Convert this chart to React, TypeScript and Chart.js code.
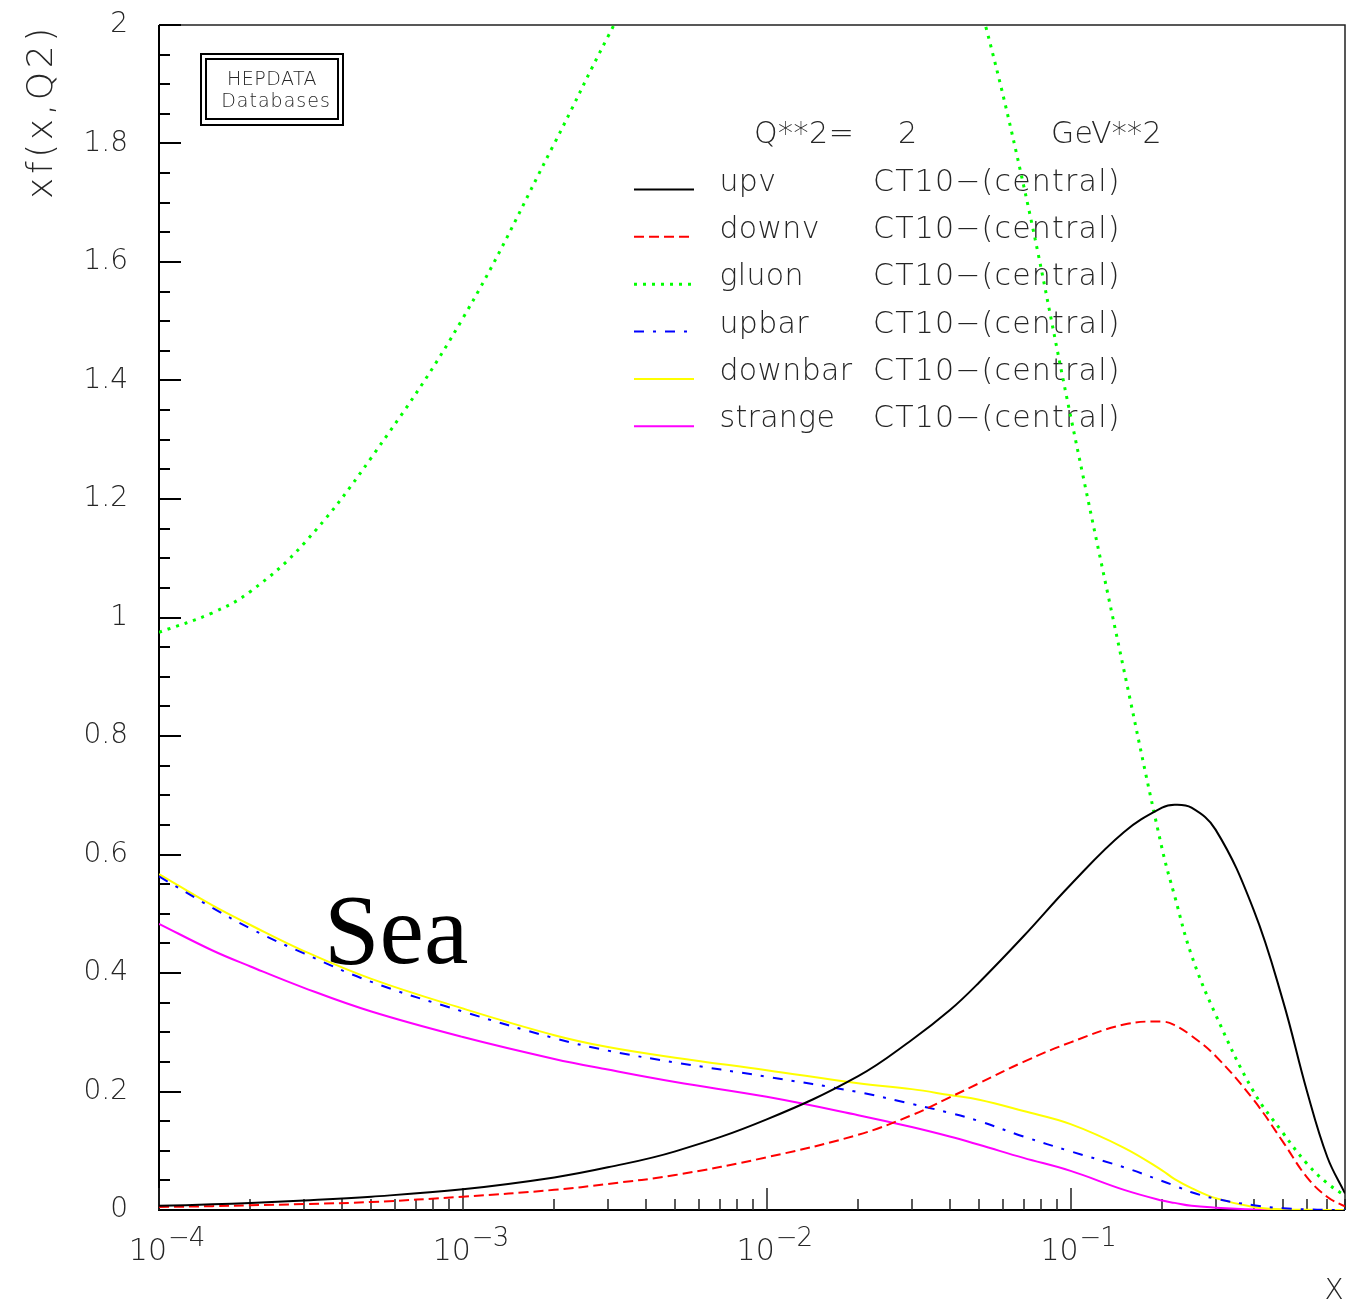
import React, { useEffect, useRef } from 'react';
import { Chart, registerables } from 'chart.js';

Chart.register(...registerables);

// x values (log-spaced sampling of the curves)
const xValues = [1e-4, 1.5e-4, 2e-4, 3e-4, 5e-4, 1e-3, 2e-3, 3e-3, 5e-3, 1e-2, 2e-2, 3e-2, 4e-2, 5e-2, 7e-2, 0.1, 0.15, 0.2, 0.22, 0.25, 0.3, 0.4, 0.5, 0.6, 0.7, 0.8];

const upv = [0.007, 0.0095, 0.012, 0.016, 0.0225, 0.035, 0.055, 0.072, 0.099, 0.153, 0.226, 0.287, 0.337, 0.384, 0.462, 0.549, 0.638, 0.679, 0.684, 0.679, 0.642, 0.507, 0.353, 0.2, 0.089, 0.028];
const downv = [0.005, 0.0065, 0.008, 0.010, 0.0135, 0.0225, 0.034, 0.044, 0.059, 0.089, 0.127, 0.160, 0.190, 0.214, 0.250, 0.283, 0.313, 0.318, 0.312, 0.294, 0.26, 0.186, 0.115, 0.055, 0.022, 0.006];
const gluon = [0.975, 1.008, 1.044, 1.125, 1.27, 1.505, 1.80, 1.98, 2.19, 2.38, 2.42, 2.33, 2.2, 2.04, 1.73, 1.34, 0.91, 0.61, 0.53, 0.43, 0.33, 0.20, 0.13, 0.078, 0.045, 0.024];
const upbar = [0.563, 0.51, 0.475, 0.433, 0.385, 0.335, 0.290, 0.269, 0.249, 0.225, 0.199, 0.179, 0.164, 0.15, 0.124, 0.099, 0.072, 0.049, 0.041, 0.03, 0.019, 0.008, 0.003, 0.001, 0.0003, 0];
const downbar = [0.567, 0.514, 0.481, 0.437, 0.390, 0.340, 0.295, 0.275, 0.257, 0.236, 0.214, 0.204, 0.194, 0.186, 0.167, 0.145, 0.105, 0.067, 0.052, 0.037, 0.02, 0.005, 0.001, 0.0003, 0, 0];
const strange = [0.483, 0.438, 0.411, 0.375, 0.335, 0.292, 0.255, 0.237, 0.216, 0.191, 0.160, 0.140, 0.124, 0.11, 0.088, 0.066, 0.034, 0.016, 0.012, 0.007, 0.004, 0.001, 0.0003, 0, 0, 0];

const seriesNames = ['upv', 'downv', 'gluon', 'upbar', 'downbar', 'strange'];
const pdfSetLabel = 'CT10\u2212(central)';
const headerParts = ['Q**2=', '2', 'GeV**2'];
const xDecadeExponents = [-4, -3, -2, -1];
const yAxisTitle = 'xf(x,Q2)';
const xAxisTitle = 'X';
const boxLines = ['HEPDATA', 'Databases'];
const annotation = 'Sea';

const SANS = '"DejaVu Sans", "Liberation Sans", sans-serif';
const TEXT = '#262626';
const WEIGHT = '200';

export default function App() {
  const ref = useRef<HTMLCanvasElement>(null);

  useEffect(() => {
    const canvas = ref.current;
    if (!canvas) return;

    const mk = (label: string, values: number[], color: string, dash: number[], width: number) => ({
      label,
      data: xValues.map((x, i) => ({ x, y: values[i] })),
      borderColor: color,
      backgroundColor: color,
      borderWidth: width,
      borderDash: dash,
      borderCapStyle: 'butt' as const,
      pointRadius: 0,
      fill: false,
      tension: 0.4,
    });

    const txt = (ctx: CanvasRenderingContext2D, s: string, x: number, y: number, size: number, align: CanvasTextAlign = 'left', spacing = 0, color = TEXT, family = SANS, weight = WEIGHT) => {
      ctx.font = `${weight} ${size}px ${family}`;
      ctx.fillStyle = color;
      ctx.textAlign = align;
      ctx.textBaseline = 'alphabetic';
      (ctx as any).letterSpacing = spacing + 'px';
      ctx.fillText(s, x, y);
      (ctx as any).letterSpacing = '0px';
    };

    const decor = {
      id: 'decor',
      beforeDatasetsDraw(chart: any) {
        const ctx: CanvasRenderingContext2D = chart.ctx;
        const { left, right, top, bottom } = chart.chartArea;
        const xs = chart.scales.x;
        const ys = chart.scales.y;
        ctx.save();
        ctx.setLineDash([]);

        // frame
        ctx.strokeStyle = '#000';
        ctx.lineWidth = 2;
        ctx.beginPath();
        ctx.moveTo(left, top);
        ctx.lineTo(left, bottom);
        ctx.lineTo(right, bottom);
        ctx.stroke();
        ctx.lineWidth = 1.5;
        ctx.strokeStyle = '#222';
        ctx.beginPath();
        ctx.moveTo(left, top);
        ctx.lineTo(right, top);
        ctx.lineTo(right, bottom);
        ctx.stroke();

        // y ticks (inside)
        ctx.strokeStyle = '#000';
        ctx.lineWidth = 2;
        ctx.beginPath();
        for (let i = 0; i <= 40; i++) {
          const y = Math.round(ys.getPixelForValue(i * 0.05));
          const len = i % 4 === 0 ? 22 : 11;
          ctx.moveTo(left, y);
          ctx.lineTo(left + len, y);
        }
        ctx.stroke();

        // x ticks (inside)
        ctx.lineWidth = 1.5;
        ctx.strokeStyle = '#222';
        ctx.beginPath();
        for (const d of xDecadeExponents) {
          for (let k = 1; k <= 9; k++) {
            const v = k * Math.pow(10, d);
            if (v > xs.max * 1.0001) continue;
            const x = Math.round(xs.getPixelForValue(v));
            const len = k === 1 ? 22 : 11;
            ctx.moveTo(x, bottom);
            ctx.lineTo(x, bottom - len);
          }
        }
        ctx.stroke();

        // x tick labels 10^d
        for (const d of xDecadeExponents) {
          const x = xs.getPixelForValue(Math.pow(10, d));
          txt(ctx, '10', x + 8, 1260, 30, 'right');
          txt(ctx, '\u2212' + String(-d), x + 9, 1246, 26, 'left', -1);
        }

        // axis titles
        txt(ctx, xAxisTitle, 1334, 1299, 28, 'center');
        ctx.save();
        ctx.translate(52, 199);
        ctx.rotate(-Math.PI / 2);
        txt(ctx, yAxisTitle, 0, 0, 36, 'left', 3.6);
        ctx.restore();

        // HEPDATA box
        ctx.strokeStyle = '#000';
        ctx.lineWidth = 2;
        ctx.strokeRect(201, 54, 142, 71);
        ctx.strokeRect(206, 59, 132, 60);
        txt(ctx, boxLines[0], 272, 84.5, 19, 'center', 0.5);
        txt(ctx, boxLines[1], 276, 107, 19, 'center', 1);

        // header
        txt(ctx, headerParts[0], 754, 143, 30, 'left', 0.5);
        txt(ctx, headerParts[1], 898, 143, 30, 'left');
        txt(ctx, headerParts[2], 1051, 143, 30, 'left', 0.3);

        // legend
        chart.data.datasets.forEach((ds: any, i: number) => {
          const base = 190.5 + i * 47.35;
          ctx.save();
          ctx.strokeStyle = ds.borderColor;
          ctx.lineWidth = ds.borderWidth;
          ctx.setLineDash(ds.borderDash || []);
          ctx.lineCap = 'butt';
          ctx.beginPath();
          ctx.moveTo(634, base - 1);
          ctx.lineTo(694, base - 1);
          ctx.stroke();
          ctx.restore();
          txt(ctx, ds.label, 719.5, base, 30, 'left', 0.3);
          txt(ctx, pdfSetLabel, 873, base, 30, 'left', 1.2);
        });

        // Sea annotation
        txt(ctx, annotation, 324, 963, 100, 'left', 0, '#000', '"Liberation Serif", "DejaVu Serif", serif', 'normal');

        ctx.restore();
      },
    };

    const chart = new Chart(canvas, {
      type: 'line',
      data: {
        datasets: [
          mk(seriesNames[0], upv, '#000000', [], 2),
          mk(seriesNames[1], downv, '#ff0000', [10, 5], 2),
          mk(seriesNames[2], gluon, '#00ff00', [3, 6], 3),
          mk(seriesNames[3], upbar, '#0000ff', [10, 9, 3, 9], 2),
          mk(seriesNames[4], downbar, '#ffff00', [], 2),
          mk(seriesNames[5], strange, '#ff00ff', [], 2),
        ],
      },
      options: {
        responsive: false,
        animation: false,
        devicePixelRatio: 1,
        events: [],
        layout: { padding: { left: 0, right: 3, top: 25, bottom: 0 } },
        plugins: { legend: { display: false }, tooltip: { enabled: false }, title: { display: false } },
        scales: {
          x: {
            type: 'logarithmic',
            min: 1e-4,
            max: 0.8,
            grid: { display: false, drawTicks: false },
            border: { display: false },
            ticks: { display: false },
            afterFit: (s: any) => { s.height = 90; s.paddingLeft = 0; s.paddingRight = 0; },
          },
          y: {
            type: 'linear',
            min: 0,
            max: 2,
            grid: { display: false, drawTicks: false },
            border: { display: false },
            ticks: {
              stepSize: 0.2,
              padding: 31,
              color: TEXT,
              font: { family: SANS, size: 28, weight: WEIGHT },
              callback: (v: any) => {
                const n = Number(v);
                return Math.abs(n) < 1e-9 ? '0' : String(Number(n.toFixed(1)));
              },
            },
            afterFit: (s: any) => { s.width = 159; s.paddingTop = 0; s.paddingBottom = 0; },
          },
        },
      },
      plugins: [decor],
    } as any);

    return () => chart.destroy();
  }, []);

  return (
    <div style={{ position: 'absolute', left: 0, top: 0, width: 1348, height: 1300, background: '#fff' }}>
      <canvas ref={ref} width={1348} height={1300} style={{ display: 'block' }} />
    </div>
  );
}
